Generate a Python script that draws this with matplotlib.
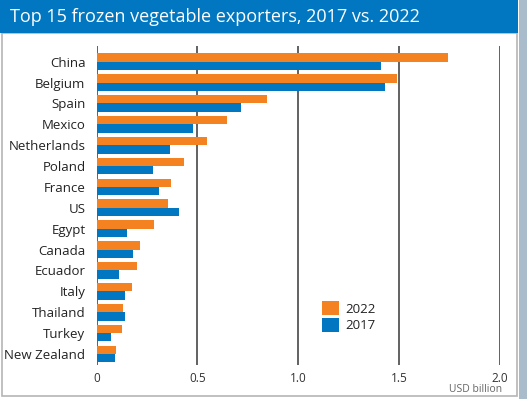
import matplotlib
matplotlib.use("Agg")
import matplotlib.pyplot as plt
from matplotlib.patches import Rectangle
import numpy as np

countries = ["China", "Belgium", "Spain", "Mexico", "Netherlands", "Poland", "France",
             "US", "Egypt", "Canada", "Ecuador", "Italy", "Thailand", "Turkey", "New Zealand"]
v2022 = [1.74, 1.49, 0.845, 0.646, 0.547, 0.434, 0.368, 0.353, 0.285, 0.216, 0.20, 0.176, 0.132, 0.125, 0.097]
v2017 = [1.41, 1.43, 0.716, 0.477, 0.365, 0.279, 0.309, 0.41, 0.151, 0.18, 0.11, 0.141, 0.141, 0.072, 0.092]
xticks = [0, 0.5, 1.0, 1.5, 2.0]
xticklabels = ["0", "0.5", "1.0", "1.5", "2.0"]

ORANGE = "#F58220"
BLUE = "#0077C0"
W, H = 527, 399
plt.rcParams['font.family'] = ['Open Sans', 'DejaVu Sans']

fig = plt.figure(figsize=(W/100, H/100), dpi=100)
fig.patch.set_facecolor("white")

# panel border and right strip
fig.patches.append(Rectangle((2/W, 3/H), 515/W, 363/H, transform=fig.transFigure,
                             facecolor="white", edgecolor="#b5b5b5", lw=1.2, zorder=0))
fig.patches.append(Rectangle((519/W, 0), 8/W, 1, transform=fig.transFigure,
                             facecolor="#a9bccb", edgecolor="none", zorder=0))
# title bar
fig.patches.append(Rectangle((0, (H-33)/H), 518/W, 33/H, transform=fig.transFigure,
                             facecolor=BLUE, edgecolor="none", zorder=1))
fig.text(10/W, (H-16.5)/H, "Top 15 frozen vegetable exporters, 2017 vs. 2022",
         color="white", fontsize=13, va="center", ha="left")

left, right, top, bottom = 96.5, 500, 46, 365
ax = fig.add_axes([left/W, (H-bottom)/H, (right-left)/W, (bottom-top)/H])
ax.set_zorder(5)
ax.set_facecolor("none")
n = len(countries)
y = np.arange(n)[::-1]
h = 0.4
ax.barh(y + h/2, v2022, height=h, color=ORANGE, zorder=3, label="2022")
ax.barh(y - h/2, v2017, height=h, color=BLUE, zorder=3, label="2017")
for xt in xticks:
    ax.axvline(xt, color="#555555", lw=1.3, zorder=1)
ax.set_xlim(0, 2.0)
ax.set_ylim(-0.53, n - 1 + 0.75)
ax.set_yticks(y)
ax.set_yticklabels(countries, fontsize=9.5, color="#222222")
ax.set_xticks(xticks)
ax.set_xticklabels(xticklabels, fontsize=8.5, color="#333333")
ax.tick_params(length=0, axis="y", pad=8)
ax.tick_params(length=0, axis="x", pad=5)
for s in ax.spines.values():
    s.set_visible(False)

leg = ax.legend(loc="upper left", bbox_to_anchor=((322-left)/(right-left), (bottom-301)/(bottom-top)),
                frameon=False, fontsize=9.5, handlelength=1.3, handleheight=1.3,
                handletextpad=0.5, labelspacing=0.15, borderaxespad=0, borderpad=0)
for t in leg.get_texts():
    t.set_color("#222222")

fig.text(502/W, (H-389)/H, "USD billion", fontsize=7.5, color="#666666", ha="right", va="center")

fig.savefig("out.png", dpi=100)
